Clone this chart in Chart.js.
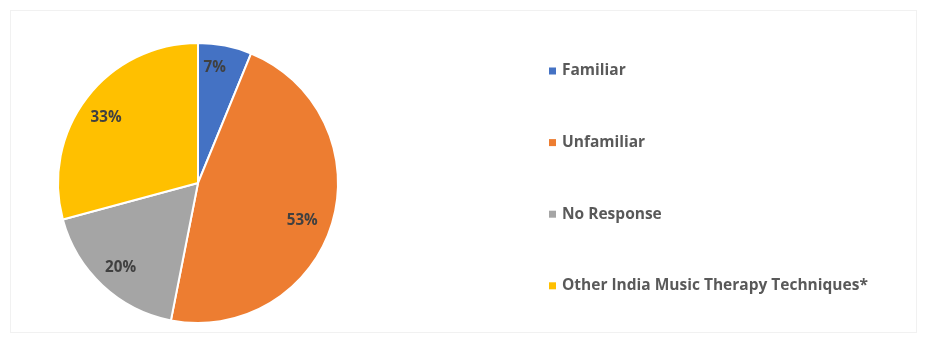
<!DOCTYPE html>
<html>
<head>
<meta charset="utf-8">
<script src="https://cdn.jsdelivr.net/npm/chart.js@4/dist/chart.umd.min.js"></script>
<style>
  html, body { margin: 0; padding: 0; background: #ffffff; }
  #wrap { position: relative; width: 929px; height: 352px; }
  #frame { position: absolute; left: 10px; top: 10px; width: 907px; height: 323px; border: 1px solid #f1f1f1; box-sizing: border-box; pointer-events: none; }
  canvas { position: absolute; left: 0; top: 0; }
</style>
</head>
<body>
<div id="wrap">
  <canvas id="c" width="929" height="352"></canvas>
  <div id="frame"></div>
</div>
<script>
const categories = ["Familiar", "Unfamiliar", "No Response", "Other India Music Therapy Techniques*"];
const values = [7, 53, 20, 33];
const valueLabels = ["7%", "53%", "20%", "33%"];
const colors = ["#4472C4", "#ED7D31", "#A5A5A5", "#FFC000"];

const FONT = "'Open Sans', Lato, sans-serif";

function fitFont(ctx, text, targetWidth) {
  ctx.font = "bold 20px " + FONT;
  const w = ctx.measureText(text).width;
  return 20 * targetWidth / w;
}

// label nudges (px) to mimic the best-fit placement
const labelNudge = [[-5, -5], [-3, 5], [-1, 3], [-3, 3]];

const labelPlugin = {
  id: 'sliceLabels',
  afterDatasetsDraw(chart) {
    const ctx = chart.ctx;
    const meta = chart.getDatasetMeta(0);
    ctx.save();
    const fs = fitFont(ctx, "53%", 31);
    ctx.font = "bold " + fs.toFixed(2) + "px " + FONT;
    ctx.fillStyle = "#404040";
    ctx.textAlign = "center";
    ctx.textBaseline = "middle";
    meta.data.forEach((arc, i) => {
      const p = arc.getProps(['x','y','startAngle','endAngle','outerRadius'], true);
      const mid = (p.startAngle + p.endAngle) / 2;
      const r = p.outerRadius * 0.8;
      ctx.fillText(valueLabels[i], p.x + Math.cos(mid) * r + labelNudge[i][0], p.y + Math.sin(mid) * r + labelNudge[i][1]);
    });
    ctx.restore();
  }
};

const legendPlugin = {
  id: 'sideLegend',
  afterDraw(chart) {
    const ctx = chart.ctx;
    ctx.save();
    const fs = fitFont(ctx, categories[3], 306);
    ctx.font = "bold " + fs.toFixed(2) + "px " + FONT;
    ctx.textAlign = "left";
    ctx.textBaseline = "middle";
    categories.forEach((name, i) => {
      const y = 71 + i * 71.6;
      ctx.fillStyle = colors[i];
      ctx.fillRect(549, y - 3.5, 7, 7);
      ctx.fillStyle = "#595959";
      ctx.fillText(name, 562, y);
    });
    ctx.restore();
  }
};

new Chart(document.getElementById('c'), {
  type: 'pie',
  data: {
    labels: categories,
    datasets: [{
      data: values,
      backgroundColor: colors,
      borderColor: "#ffffff",
      borderWidth: 2,
      hoverOffset: 0
    }]
  },
  options: {
    responsive: false,
    animation: false,
    events: [],
    layout: { padding: { left: 57, right: 590, top: 42, bottom: 28 } },
    plugins: {
      legend: { display: false },
      tooltip: { enabled: false }
    }
  },
  plugins: [labelPlugin, legendPlugin]
});
</script>
</body>
</html>
